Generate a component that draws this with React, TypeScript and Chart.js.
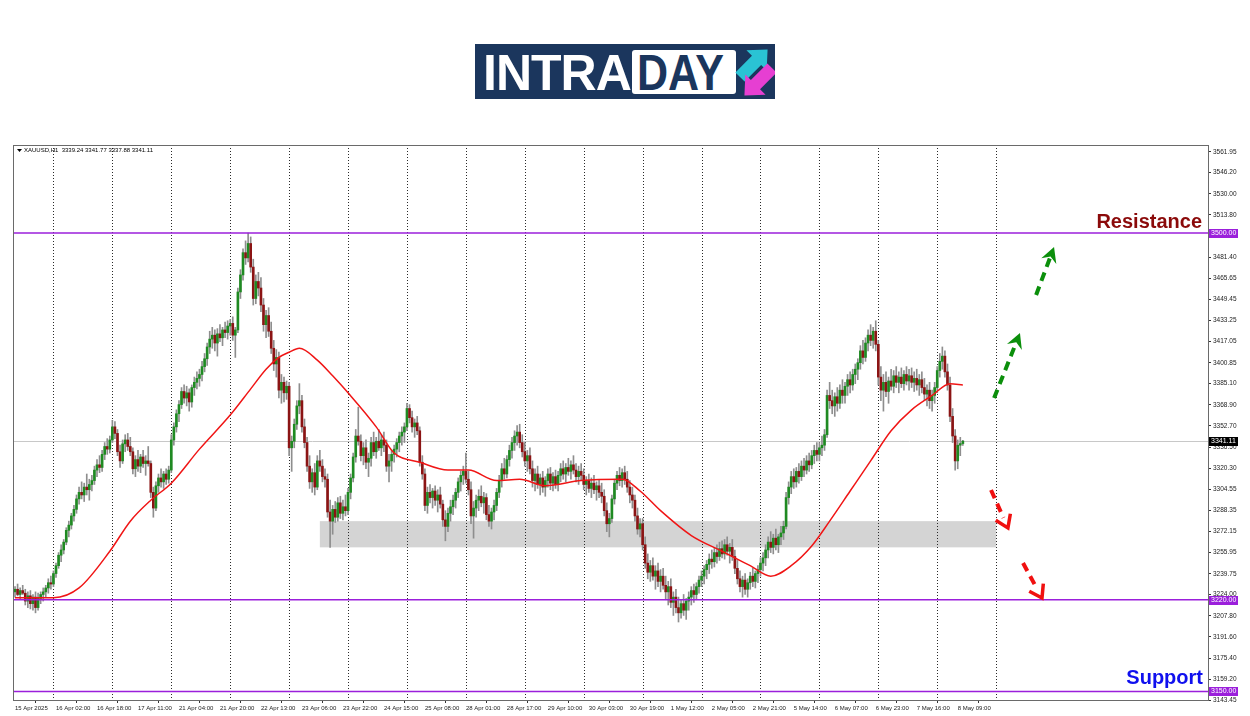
import React, { useEffect, useRef } from "react";
import { Chart, registerables } from "chart.js";

Chart.register(...registerables);

// ---------- DATA (H1 candles: [open, high, low, close]) ----------
const apr15 = [
  [3226,3230,3222,3228],[3228,3232,3223,3224],[3224,3229,3220,3227],[3227,3231,3224,3225],[3225,3228,3216,3219],
  [3219,3226,3214,3223],[3223,3227,3213,3217],[3217,3224,3212,3222],[3222,3226,3210,3214],[3214,3225,3212,3221],
  [3221,3226,3217,3224],[3224,3229,3219,3226],[3226,3231,3222,3229],[3229,3236,3225,3233],[3233,3238,3228,3232],
];
const apr16 = [
  [3232,3242,3230,3240],[3240,3248,3237,3246],[3246,3256,3244,3254],[3254,3262,3249,3258],[3258,3266,3255,3264],
  [3264,3275,3262,3273],[3273,3280,3268,3277],[3277,3286,3274,3284],[3284,3292,3280,3289],[3289,3300,3286,3297],
  [3297,3306,3293,3302],[3302,3310,3297,3300],[3300,3309,3295,3306],[3306,3316,3300,3304],[3304,3312,3296,3308],
  [3308,3315,3303,3311],[3311,3322,3308,3319],[3319,3327,3314,3323],[3323,3330,3317,3321],[3321,3334,3318,3331],
  [3331,3340,3327,3337],[3337,3343,3331,3335],[3335,3345,3332,3342],
];
const apr17 = [
  [3342,3357,3340,3352],[3352,3356,3343,3347],[3347,3350,3330,3333],[3333,3338,3321,3326],[3326,3342,3324,3339],
  [3339,3346,3333,3342],[3342,3347,3334,3337],[3337,3344,3330,3333],[3333,3336,3316,3320],[3320,3330,3314,3327],
  [3327,3334,3318,3322],[3322,3331,3317,3329],[3329,3334,3321,3324],[3324,3330,3315,3326],[3326,3337,3322,3324],
  [3324,3326,3298,3302],[3302,3306,3283,3290],[3290,3310,3288,3307],[3307,3316,3302,3313],[3313,3320,3306,3310],
  [3310,3318,3305,3316],[3316,3320,3308,3312],[3312,3322,3309,3319],
];
const apr21 = [
  [3319,3346,3317,3342],[3342,3355,3338,3352],[3352,3365,3348,3362],[3362,3372,3356,3369],[3369,3382,3366,3379],
  [3379,3384,3370,3374],[3374,3383,3368,3378],[3378,3381,3364,3371],[3371,3384,3367,3382],[3382,3390,3376,3386],
  [3386,3394,3381,3389],[3389,3396,3383,3392],[3392,3402,3387,3398],[3398,3408,3394,3404],[3404,3416,3399,3413],
  [3413,3425,3408,3419],[3419,3428,3412,3422],[3422,3426,3410,3416],[3416,3427,3406,3423],[3423,3430,3417,3420],
  [3420,3428,3414,3426],[3426,3432,3420,3424],[3424,3433,3419,3429],
];
const apr22 = [
  [3429,3434,3422,3431],[3431,3436,3418,3422],[3422,3428,3405,3426],[3426,3458,3424,3455],[3455,3472,3450,3468],
  [3468,3488,3464,3485],[3485,3494,3476,3481],[3481,3500,3478,3492],[3492,3497,3470,3474],[3474,3480,3445,3450],
  [3450,3468,3446,3463],[3463,3470,3452,3458],[3458,3466,3440,3445],[3445,3450,3425,3430],[3430,3441,3420,3437],
  [3437,3443,3421,3425],[3425,3432,3408,3412],[3412,3418,3395,3400],[3400,3411,3390,3405],[3405,3409,3374,3380],
  [3380,3392,3370,3386],[3386,3390,3371,3378],[3378,3387,3373,3383],
];
const apr23 = [
  [3383,3386,3330,3336],[3336,3345,3318,3341],[3341,3358,3336,3354],[3354,3372,3350,3368],[3368,3385,3362,3372],
  [3372,3376,3348,3352],[3352,3358,3336,3340],[3340,3344,3318,3322],[3322,3330,3305,3310],[3310,3320,3302,3317],
  [3317,3324,3300,3306],[3306,3330,3304,3326],[3326,3334,3318,3322],[3322,3327,3310,3314],[3314,3320,3306,3312],
  [3312,3316,3283,3287],[3287,3296,3260,3280],[3280,3292,3270,3289],[3289,3295,3279,3283],[3283,3298,3280,3294],
  [3294,3299,3282,3286],[3286,3296,3281,3291],[3291,3300,3284,3288],
];
const apr24 = [
  [3288,3305,3285,3302],[3302,3316,3297,3313],[3313,3332,3310,3329],[3329,3350,3325,3345],[3345,3367,3338,3341],
  [3341,3346,3326,3330],[3330,3340,3323,3336],[3336,3342,3320,3325],[3325,3332,3314,3328],[3328,3344,3322,3340],
  [3340,3348,3330,3333],[3333,3344,3328,3341],[3341,3350,3334,3336],[3336,3346,3330,3342],[3342,3348,3333,3338],
  [3338,3342,3318,3322],[3322,3331,3310,3326],[3326,3334,3318,3331],[3331,3338,3325,3335],[3335,3343,3329,3340],
  [3340,3348,3333,3345],[3345,3352,3338,3348],[3348,3355,3340,3352],
];
const apr25 = [
  [3352,3370,3349,3366],[3366,3369,3355,3359],[3359,3364,3348,3352],[3352,3358,3344,3355],[3355,3360,3346,3349],
  [3349,3352,3322,3325],[3325,3330,3312,3316],[3316,3320,3288,3292],[3292,3306,3286,3302],[3302,3308,3294,3298],
  [3298,3305,3290,3303],[3303,3307,3292,3296],[3296,3304,3287,3300],[3300,3306,3290,3293],[3293,3296,3276,3281],
  [3281,3288,3265,3276],[3276,3290,3272,3286],[3286,3296,3280,3291],[3291,3300,3285,3296],[3296,3305,3290,3302],
  [3302,3313,3298,3310],[3310,3318,3303,3315],[3315,3322,3308,3318],
];
const apr28 = [
  [3318,3332,3309,3312],[3312,3318,3300,3304],[3304,3310,3278,3284],[3284,3295,3267,3290],[3290,3300,3283,3296],
  [3296,3304,3288,3299],[3299,3307,3291,3294],[3294,3302,3286,3298],[3298,3301,3281,3285],[3285,3292,3276,3280],
  [3280,3290,3274,3287],[3287,3296,3281,3292],[3292,3305,3288,3302],[3302,3315,3298,3311],[3311,3324,3306,3320],
  [3320,3328,3312,3316],[3316,3330,3313,3327],[3327,3338,3322,3334],[3334,3344,3328,3340],[3340,3349,3334,3345],
  [3345,3353,3338,3348],[3348,3354,3336,3340],[3340,3346,3329,3333],
];
const apr29 = [
  [3333,3340,3322,3326],[3326,3334,3318,3330],[3330,3336,3316,3320],[3320,3326,3306,3311],[3311,3320,3303,3316],
  [3316,3322,3305,3308],[3308,3316,3300,3313],[3313,3318,3302,3306],[3306,3314,3299,3311],[3311,3320,3306,3316],
  [3316,3321,3304,3309],[3309,3317,3303,3314],[3314,3319,3305,3308],[3308,3318,3303,3315],[3315,3324,3310,3320],
  [3320,3326,3312,3316],[3316,3324,3310,3321],[3321,3328,3315,3318],[3318,3326,3312,3323],[3323,3330,3316,3319],
  [3319,3324,3310,3314],[3314,3322,3308,3318],[3318,3324,3311,3315],
];
const apr30 = [
  [3315,3320,3304,3308],[3308,3314,3300,3311],[3311,3316,3302,3305],[3305,3313,3298,3309],[3309,3315,3301,3304],
  [3304,3310,3296,3307],[3307,3312,3298,3302],[3302,3309,3294,3299],[3299,3304,3284,3288],[3288,3294,3272,3278],
  [3278,3286,3268,3282],[3282,3300,3279,3297],[3297,3312,3293,3309],[3309,3318,3304,3315],[3315,3321,3307,3311],
  [3311,3320,3306,3317],[3317,3322,3308,3312],[3312,3318,3302,3306],[3306,3311,3294,3300],[3300,3306,3290,3296],
  [3296,3300,3280,3284],[3284,3290,3270,3274],[3274,3282,3268,3278],
];
const may01 = [
  [3278,3282,3258,3262],[3262,3268,3244,3248],[3248,3255,3236,3241],[3241,3250,3234,3246],[3246,3252,3235,3238],
  [3238,3246,3228,3242],[3242,3248,3230,3234],[3234,3243,3226,3238],[3238,3244,3228,3231],[3231,3238,3220,3226],
  [3226,3234,3216,3230],[3230,3236,3214,3218],[3218,3226,3208,3222],[3222,3228,3210,3214],[3214,3222,3203,3210],
  [3210,3220,3206,3217],[3217,3224,3208,3212],[3212,3221,3205,3219],[3219,3226,3212,3222],[3222,3230,3216,3227],
  [3227,3232,3218,3224],[3224,3233,3220,3230],[3230,3238,3225,3235],
];
const may02 = [
  [3235,3242,3230,3238],[3238,3246,3232,3243],[3243,3250,3236,3247],[3247,3255,3240,3251],[3251,3258,3244,3249],
  [3249,3260,3245,3256],[3256,3262,3248,3253],[3253,3264,3250,3259],[3259,3265,3252,3255],[3255,3266,3251,3262],
  [3262,3268,3254,3257],[3257,3263,3248,3260],[3260,3266,3250,3253],[3253,3258,3240,3244],[3244,3250,3232,3236],
  [3236,3242,3226,3230],[3230,3238,3222,3235],[3235,3240,3224,3228],[3228,3236,3222,3233],[3233,3241,3228,3238],
  [3238,3244,3230,3234],[3234,3242,3229,3240],[3240,3246,3233,3243],
];
const may05 = [
  [3243,3252,3238,3248],[3248,3256,3242,3252],[3252,3262,3246,3258],[3258,3268,3252,3264],[3264,3272,3256,3260],
  [3260,3270,3255,3267],[3267,3274,3258,3262],[3262,3270,3256,3268],[3268,3276,3262,3271],[3271,3280,3266,3276],
  [3276,3302,3274,3298],[3298,3310,3293,3306],[3306,3318,3301,3314],[3314,3320,3305,3310],[3310,3321,3306,3318],
  [3318,3324,3309,3314],[3314,3326,3311,3322],[3322,3328,3314,3319],[3319,3330,3316,3326],[3326,3332,3318,3323],
  [3323,3334,3320,3330],[3330,3338,3324,3334],[3334,3340,3326,3331],
];
const may06 = [
  [3331,3340,3326,3336],[3336,3345,3330,3338],[3338,3350,3334,3346],[3346,3380,3344,3376],[3376,3386,3366,3372],
  [3372,3380,3362,3368],[3368,3378,3360,3375],[3375,3382,3364,3370],[3370,3384,3366,3380],[3380,3388,3370,3376],
  [3376,3386,3370,3383],[3383,3392,3376,3388],[3388,3394,3378,3384],[3384,3396,3380,3392],[3392,3400,3385,3396],
  [3396,3404,3388,3401],[3401,3414,3396,3410],[3410,3418,3400,3405],[3405,3420,3402,3416],[3416,3426,3410,3422],
  [3422,3430,3414,3418],[3418,3428,3412,3425],[3425,3433,3410,3415],
];
const may07 = [
  [3415,3418,3384,3390],[3390,3398,3372,3380],[3380,3392,3364,3386],[3386,3394,3375,3379],[3379,3390,3370,3387],
  [3387,3396,3380,3383],[3383,3395,3378,3391],[3391,3398,3382,3386],[3386,3394,3378,3390],[3390,3397,3382,3385],
  [3385,3395,3380,3392],[3392,3398,3384,3387],[3387,3396,3380,3391],[3391,3397,3382,3386],[3386,3394,3379,3389],
  [3389,3396,3380,3384],[3384,3392,3376,3388],[3388,3394,3378,3382],[3382,3389,3372,3377],[3377,3384,3368,3380],
  [3380,3386,3366,3372],[3372,3380,3364,3376],[3376,3386,3370,3382],
];
const may08 = [
  [3382,3398,3378,3395],[3395,3408,3390,3402],[3402,3413,3396,3406],[3406,3410,3390,3394],[3394,3400,3380,3384],
  [3384,3390,3356,3360],[3360,3366,3340,3345],[3345,3350,3319,3326],[3326,3342,3320,3338],[3338,3344,3330,3339.24],
  [3339.24,3341.77,3337.88,3341.11],
];

// time-axis labels and the bar index they sit on
const timeLabels = [
  "15 Apr 2025","16 Apr 02:00","16 Apr 18:00","17 Apr 11:00","21 Apr 04:00","21 Apr 20:00","22 Apr 13:00",
  "23 Apr 06:00","23 Apr 22:00","24 Apr 15:00","25 Apr 08:00","28 Apr 01:00","28 Apr 17:00","29 Apr 10:00",
  "30 Apr 03:00","30 Apr 19:00","1 May 12:00","2 May 05:00","2 May 21:00","5 May 14:00","6 May 07:00",
  "6 May 23:00","7 May 16:00","8 May 09:00",
];
const timeLabelIdx = [0,16,32,48,64,80,96,112,128,144,160,176,192,208,224,240,256,272,288,304,320,336,352,368];
// first bar of each trading day (period separators)
const daySeparators = [15,38,61,84,107,130,153,176,199,222,245,268,291,314,337,360,383];

// price-axis tick labels
const priceTicks = [
  3143.45,3159.2,3175.4,3191.6,3207.8,3224.0,3239.75,3255.95,3272.15,3288.35,3304.55,3320.3,3336.5,
  3352.7,3368.9,3385.1,3400.85,3417.05,3433.25,3449.45,3465.65,3481.4,3497.6,3513.8,3530.0,3546.2,3561.95,
];

// moving average (bar index, price)
const maIdx = [0,15,25,37,45,53,61,72,84,92,98,103,107,111,118,124,130,141,148,158,169,177,188,197,207,221,237,244,252,264,276,287,295,303,311,318,326,334,342,350,358,365,370];
const maVal = [3221.5,3221.5,3229,3257,3280,3296,3309,3335,3361,3381,3396,3405,3409,3412,3403,3391,3378,3352,3332,3325,3319,3319,3311,3312,3307,3311,3312,3303,3288,3269,3257,3246,3238,3246,3261,3280,3303,3326,3349,3365,3376,3385,3384];

// horizontal levels
const resistanceLevel = 3500;
const supportLevel = 3150;
const midLevel = 3220;
const lastPrice = 3341.11;
const headerText = "XAUUSD,H1  3339.24 3341.77 3337.88 3341.11";

// grey demand zone: bar index range and price range
const zoneBars = [119, 383];
const zonePrices = [3260, 3280];

// forecast arrows [fromBar, fromPrice, toBar, toPrice]
const upArrows = [
  [382.2, 3374, 392.3, 3423.6],
  [398.6, 3452.7, 405.6, 3489.3],
];
const downArrows = [
  [381, 3303.8, 387.6, 3274.8],
  [393.5, 3248, 400.9, 3221.3],
];

const FONT = '"Liberation Sans", Arial, sans-serif';
const BULL = "#1f8a22";
const BEAR = "#8b1414";
const WICK = "#8e8e8e";
const PURPLE = "#9b1fdb";

function drawArrow(ctx: CanvasRenderingContext2D, sx: number, sy: number, tx: number, ty: number, color: string, filled: boolean) {
  const dx = tx - sx, dy = ty - sy;
  const len = Math.hypot(dx, dy);
  const ux = dx / len, uy = dy / len;
  const nx = -uy, ny = ux;
  ctx.save();
  ctx.strokeStyle = color;
  ctx.fillStyle = color;
  ctx.lineWidth = 4;
  ctx.setLineDash([9, 6]);
  ctx.lineCap = "butt";
  ctx.beginPath();
  ctx.moveTo(sx, sy);
  ctx.lineTo(tx - ux * 11, ty - uy * 11);
  ctx.stroke();
  ctx.setLineDash([]);
  if (filled) {
    ctx.beginPath();
    ctx.moveTo(tx, ty);
    ctx.lineTo(tx - ux * 15 + nx * 8, ty - uy * 15 + ny * 8);
    ctx.lineTo(tx - ux * 10, ty - uy * 10);
    ctx.lineTo(tx - ux * 15 - nx * 8, ty - uy * 15 - ny * 8);
    ctx.closePath();
    ctx.fill();
  } else {
    ctx.lineWidth = 3.5;
    ctx.lineJoin = "miter";
    ctx.beginPath();
    ctx.moveTo(tx - ux * 12 + nx * 8, ty - uy * 12 + ny * 8);
    ctx.lineTo(tx, ty);
    ctx.lineTo(tx - ux * 12 - nx * 8, ty - uy * 12 - ny * 8);
    ctx.stroke();
  }
  ctx.restore();
}

function priceBox(ctx: CanvasRenderingContext2D, x: number, y: number, text: string, bg: string) {
  ctx.save();
  ctx.fillStyle = bg;
  ctx.fillRect(x, Math.round(y) - 4, 29, 9);
  ctx.fillStyle = "#ffffff";
  ctx.font = `7px ${FONT}`;
  ctx.textAlign = "left";
  ctx.textBaseline = "middle";
  ctx.fillText(text, x + 2, Math.round(y) + 0.5);
  ctx.restore();
}

const overlayPlugin = {
  id: "overlay",
  beforeDatasetsDraw(chart: any) {
    const { ctx, chartArea: a, scales } = chart;
    const x = scales.x, y = scales.y;
    ctx.save();
    ctx.beginPath();
    ctx.rect(a.left, a.top, a.right - a.left, a.bottom - a.top);
    ctx.clip();
    const zx0 = x.getPixelForValue(zoneBars[0]);
    const zx1 = x.getPixelForValue(zoneBars[1]);
    const zy0 = y.getPixelForValue(zonePrices[1]);
    const zy1 = y.getPixelForValue(zonePrices[0]);
    ctx.fillStyle = "#d4d4d4";
    ctx.fillRect(zx0, zy0, zx1 - zx0, zy1 - zy0);
    ctx.strokeStyle = "#2a2a2a";
    ctx.lineWidth = 1;
    ctx.setLineDash([1, 2]);
    for (const d of daySeparators) {
      const px = Math.round(x.getPixelForValue(d)) + 0.5;
      ctx.beginPath();
      ctx.moveTo(px, a.top);
      ctx.lineTo(px, a.bottom);
      ctx.stroke();
    }
    ctx.setLineDash([]);
    const ly = Math.round(y.getPixelForValue(lastPrice)) + 0.5;
    ctx.strokeStyle = "#c8c8c8";
    ctx.beginPath();
    ctx.moveTo(a.left, ly);
    ctx.lineTo(a.right, ly);
    ctx.stroke();
    ctx.restore();
  },
  afterDatasetsDraw(chart: any) {
    const { ctx, chartArea: a, scales } = chart;
    const x = scales.x, y = scales.y;
    ctx.save();
    ctx.beginPath();
    ctx.rect(a.left, a.top, a.right - a.left, a.bottom - a.top);
    ctx.clip();
    ctx.strokeStyle = PURPLE;
    ctx.lineWidth = 1.5;
    for (const lv of [resistanceLevel, midLevel, supportLevel]) {
      const py = y.getPixelForValue(lv);
      ctx.beginPath();
      ctx.moveTo(a.left, py);
      ctx.lineTo(a.right, py);
      ctx.stroke();
    }
    for (const ar of upArrows) {
      drawArrow(ctx, x.getPixelForValue(ar[0]), y.getPixelForValue(ar[1]), x.getPixelForValue(ar[2]), y.getPixelForValue(ar[3]), "#0b8f0b", true);
    }
    for (const ar of downArrows) {
      drawArrow(ctx, x.getPixelForValue(ar[0]), y.getPixelForValue(ar[1]), x.getPixelForValue(ar[2]), y.getPixelForValue(ar[3]), "#f01010", false);
    }
    ctx.font = `bold 20px ${FONT}`;
    ctx.textAlign = "right";
    ctx.textBaseline = "alphabetic";
    ctx.fillStyle = "#8b0a0a";
    ctx.fillText("Resistance", a.right - 6, y.getPixelForValue(resistanceLevel) - 5);
    ctx.fillStyle = "#1010ee";
    ctx.fillText("Support", a.right - 5, y.getPixelForValue(supportLevel) - 7);
    ctx.fillStyle = "#000";
    ctx.beginPath();
    ctx.moveTo(a.left + 3, a.top + 4);
    ctx.lineTo(a.left + 8, a.top + 4);
    ctx.lineTo(a.left + 5.5, a.top + 7);
    ctx.closePath();
    ctx.fill();
    ctx.font = `6px ${FONT}`;
    ctx.textAlign = "left";
    ctx.textBaseline = "middle";
    ctx.fillText(headerText, a.left + 10, a.top + 5.5);
    ctx.restore();
  },
  afterDraw(chart: any) {
    const { ctx, chartArea: a, scales } = chart;
    const y = scales.y;
    ctx.save();
    ctx.strokeStyle = "#6a6a6a";
    ctx.lineWidth = 1;
    ctx.strokeRect(a.left - 0.5, a.top + 0.5, a.right - a.left + 1, a.bottom - a.top);
    ctx.restore();
    const bx = a.right + 1;
    priceBox(ctx, bx, y.getPixelForValue(resistanceLevel), resistanceLevel.toFixed(2), PURPLE);
    priceBox(ctx, bx, y.getPixelForValue(midLevel), midLevel.toFixed(2), PURPLE);
    priceBox(ctx, bx, y.getPixelForValue(supportLevel), supportLevel.toFixed(2), PURPLE);
    priceBox(ctx, bx, y.getPixelForValue(lastPrice), lastPrice.toFixed(2), "#000000");
  },
};

export default function App() {
  const canvasRef = useRef<HTMLCanvasElement | null>(null);

  useEffect(() => {
    const canvas = canvasRef.current;
    if (!canvas) return;
    const candles = [
      ...apr15, ...apr16, ...apr17, ...apr21, ...apr22, ...apr23, ...apr24, ...apr25,
      ...apr28, ...apr29, ...apr30, ...may01, ...may02, ...may05, ...may06, ...may07, ...may08,
    ];
    const bodies = candles.map((c, i) => ({ x: i, y: [c[0], c[3]] }));
    const wicks = candles.map((c, i) => ({ x: i, y: [c[2], c[1]] }));
    const bodyColors = candles.map((c) => (c[3] >= c[0] ? BULL : BEAR));
    const ma = maIdx.map((v, i) => ({ x: v, y: maVal[i] }));

    const chart = new Chart(canvas, {
      type: "bar",
      data: {
        datasets: [
          {
            type: "line",
            data: ma as any,
            borderColor: "#f01515",
            borderWidth: 1.5,
            pointRadius: 0,
            tension: 0.4,
            cubicInterpolationMode: "monotone",
            order: 0,
          } as any,
          {
            type: "bar",
            data: bodies as any,
            backgroundColor: bodyColors,
            borderWidth: 0,
            barThickness: 2,
            grouped: false,
            order: 1,
          } as any,
          {
            type: "bar",
            data: wicks as any,
            backgroundColor: WICK,
            borderWidth: 0,
            barThickness: 1,
            grouped: false,
            order: 2,
          } as any,
        ],
      },
      options: {
        animation: false,
        responsive: false,
        events: [],
        layout: { padding: { left: 14, top: 145, right: 0, bottom: 0 } },
        plugins: { legend: { display: false }, tooltip: { enabled: false } },
        scales: {
          x: {
            type: "linear",
            min: -0.4,
            max: 465.7,
            offset: false,
            afterBuildTicks: (s: any) => {
              s.ticks = timeLabelIdx.map((v) => ({ value: v }));
            },
            afterFit: (s: any) => {
              s.height = 16;
            },
            ticks: {
              callback: (_v: any, i: number) => timeLabels[i],
              align: "start",
              maxRotation: 0,
              minRotation: 0,
              autoSkip: false,
              font: { size: 6, family: FONT },
              color: "#222",
              padding: 2,
            },
            grid: { drawOnChartArea: false, tickLength: 3, color: "#333" },
            border: { color: "#555" },
          } as any,
          y: {
            type: "linear",
            position: "right",
            min: 3143.45,
            max: 3567.2,
            afterBuildTicks: (s: any) => {
              s.ticks = priceTicks.map((v) => ({ value: v }));
            },
            afterFit: (s: any) => {
              s.width = 42;
            },
            ticks: {
              callback: (v: any) => Number(v).toFixed(2),
              autoSkip: false,
              font: { size: 6.5, family: FONT },
              color: "#222",
              padding: 2,
            },
            grid: { drawOnChartArea: false, tickLength: 3, color: "#333" },
            border: { color: "#555" },
          } as any,
        },
      },
      plugins: [overlayPlugin],
    });
    return () => chart.destroy();
  }, []);

  const logoFont = `bold 50px ${FONT}`;
  return (
    <div style={{ position: "fixed", left: 0, top: 0, width: 1250, height: 716, background: "#fff", overflow: "hidden" }}>
      <canvas ref={canvasRef} width={1250} height={716} style={{ position: "absolute", left: 0, top: 0 }} />
      <div style={{ position: "absolute", left: 475, top: 44, width: 300, height: 55, background: "#1b365d", overflow: "hidden" }}>
        <div style={{ position: "absolute", left: 8, top: 4, color: "#fff", font: logoFont, lineHeight: "50px", letterSpacing: "-1px", whiteSpace: "nowrap" }}>
          INTRA
        </div>
        <div style={{ position: "absolute", left: 157, top: 6, width: 104, height: 44, background: "#fff", borderRadius: 3 }} />
        <div style={{ position: "absolute", left: 162, top: 4, color: "#1b365d", font: logoFont, lineHeight: "50px", whiteSpace: "nowrap", transform: "scaleX(0.86)", transformOrigin: "left center" }}>
          DAY
        </div>
        <svg width={300} height={55} style={{ position: "absolute", left: 0, top: 0 }}>
          <polygon points="0,-5 18,-5 18,-11 30,0 18,11 18,5 0,5" fill="#2ac3d4" transform="translate(265,33) rotate(-45) scale(1.3)" />
          <polygon points="0,-5 18,-5 18,-11 30,0 18,11 18,5 0,5" fill="#e63fd2" transform="translate(297,24) rotate(135) scale(1.3)" />
        </svg>
      </div>
    </div>
  );
}
